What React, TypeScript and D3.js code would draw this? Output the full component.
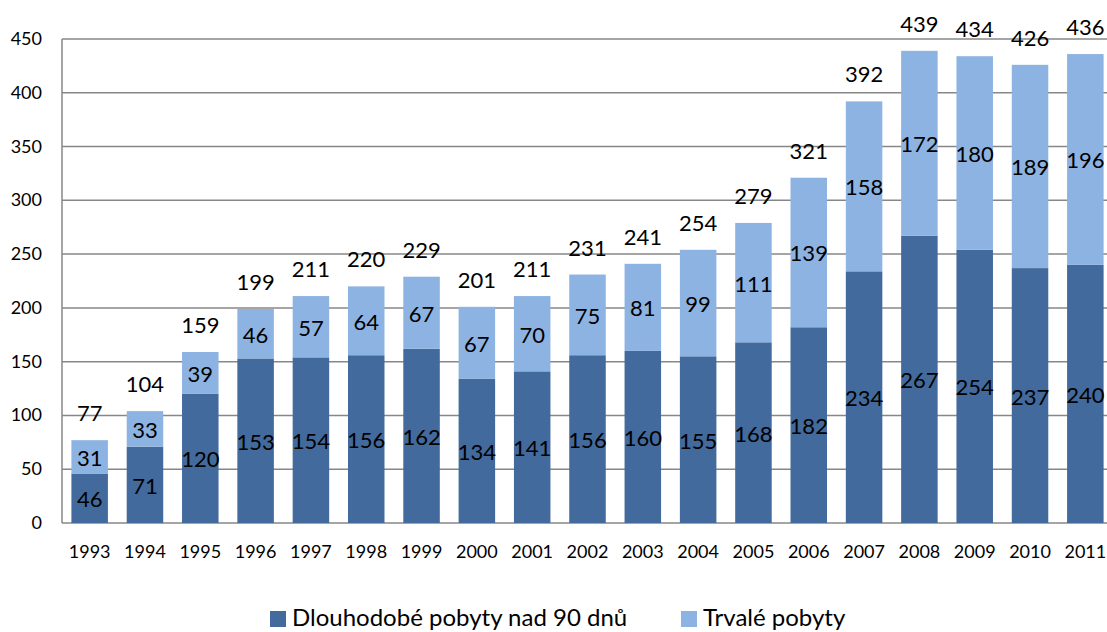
import * as d3 from 'd3';
import React, { useEffect, useRef } from 'react';

const years = ['1993', '1994', '1995', '1996', '1997', '1998', '1999', '2000', '2001', '2002',
    '2003', '2004', '2005', '2006', '2007', '2008', '2009', '2010', '2011'];
const longTerm = [46, 71, 120, 153, 154, 156, 162, 134, 141, 156, 160, 155, 168, 182, 234, 267, 254, 237, 240];
const permanent = [31, 33, 39, 46, 57, 64, 67, 67, 70, 75, 81, 99, 111, 139, 158, 172, 180, 189, 196];
const seriesNames = ['Dlouhodobé pobyty nad 90 dnů', 'Trvalé pobyty'];
const yTicks = [0, 50, 100, 150, 200, 250, 300, 350, 400, 450];

const colors = ['#426A9C', '#8DB3E2'];
const font = 'Lato, sans-serif';

function App() {
    const ref = useRef(null);

    useEffect(() => {
        const svg = d3.select(ref.current);
        svg.selectAll('*').remove();

        const left = 62;
        const right = 1113;
        const top = 39;
        const bottom = 523;

        const x = d3.scaleBand().domain(years).range([left, right]).paddingInner(0.34).paddingOuter(0.17);
        const y = d3.scaleLinear().domain([0, 450]).range([bottom, top]);

        // gridlines
        svg.append('g').selectAll('line')
            .data(yTicks)
            .enter().append('line')
            .attr('x1', left).attr('x2', 1107)
            .attr('y1', d => y(d)).attr('y2', d => y(d))
            .attr('stroke', '#878787').attr('stroke-width', 1.5);

        svg.append('line')
            .attr('x1', left).attr('x2', left)
            .attr('y1', top).attr('y2', bottom)
            .attr('stroke', '#878787').attr('stroke-width', 1.5);

        svg.append('g').selectAll('text')
            .data(yTicks)
            .enter().append('text')
            .attr('x', 42).attr('y', d => y(d) + 6)
            .attr('text-anchor', 'end')
            .attr('font-size', 18).attr('font-family', font)
            .text(d => d);

        svg.append('g').selectAll('text')
            .data(years)
            .enter().append('text')
            .attr('x', d => x(d) + x.bandwidth() / 2).attr('y', 558)
            .attr('text-anchor', 'middle')
            .attr('font-size', 18).attr('font-family', font)
            .text(d => d);

        const rows = years.map((yr, i) => ({ yr, a: longTerm[i], b: permanent[i] }));
        const stack = d3.stack().keys(['a', 'b'])(rows);

        stack.forEach((layer, li) => {
            const g = svg.append('g');
            g.selectAll('rect')
                .data(layer)
                .enter().append('rect')
                .attr('x', d => x(d.data.yr))
                .attr('width', x.bandwidth())
                .attr('y', d => y(d[1]))
                .attr('height', d => y(d[0]) - y(d[1]))
                .attr('fill', colors[li]);
            g.selectAll('text')
                .data(layer)
                .enter().append('text')
                .attr('x', d => x(d.data.yr) + x.bandwidth() / 2)
                .attr('y', d => (y(d[0]) + y(d[1])) / 2 + 9)
                .attr('text-anchor', 'middle')
                .attr('font-size', 22).attr('font-family', font)
                .text(d => d[1] - d[0]);
        });

        svg.append('g').selectAll('text')
            .data(rows)
            .enter().append('text')
            .attr('x', d => x(d.yr) + x.bandwidth() / 2)
            .attr('y', d => y(d.a + d.b) - 19)
            .attr('text-anchor', 'middle')
            .attr('font-size', 22).attr('font-family', font)
            .text(d => d.a + d.b);

        // legend
        const legendX = [270, 681];
        const lg = svg.append('g');
        seriesNames.forEach((name, i) => {
            lg.append('rect')
                .attr('x', legendX[i]).attr('y', 611)
                .attr('width', 16).attr('height', 16)
                .attr('fill', colors[i]);
            lg.append('text')
                .attr('x', legendX[i] + 22).attr('y', 626)
                .attr('font-size', 24).attr('font-family', font)
                .text(name);
        });
    }, []);

    return <svg ref={ref} width={1107} height={632} style={{ position: 'absolute', left: 0, top: 0 }}></svg>;
}

export default App;
